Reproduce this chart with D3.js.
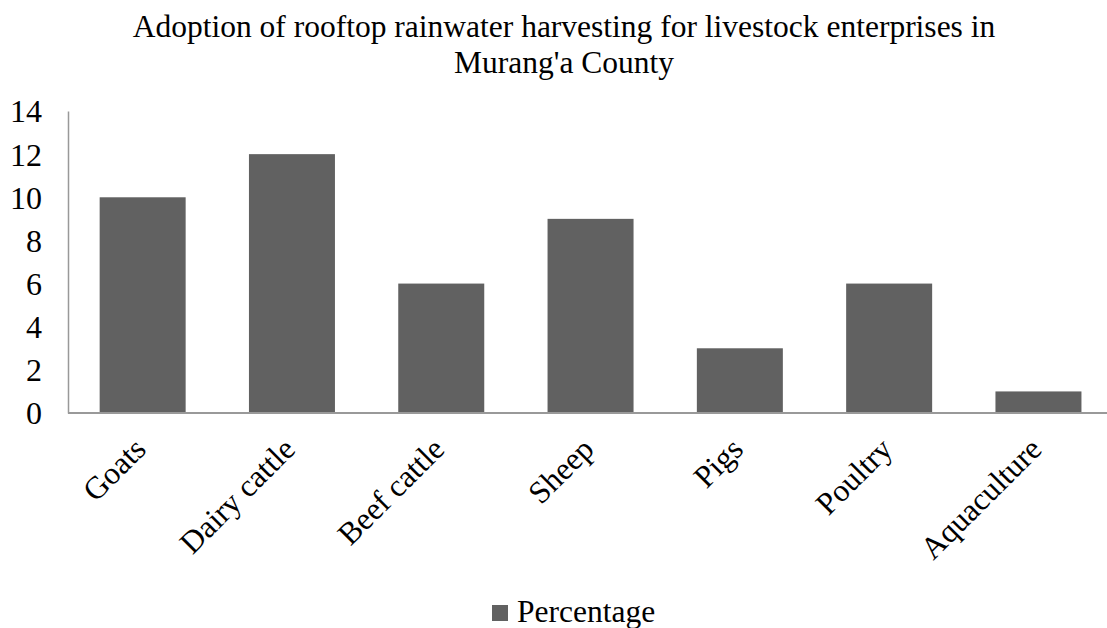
<!DOCTYPE html>
<html>
<head>
<meta charset="utf-8">
<script src="https://cdn.jsdelivr.net/npm/d3@7"></script>
<style>
  html, body { margin: 0; padding: 0; background: #fff; }
  svg text { font-family: "Liberation Serif", "Times New Roman", serif; fill: #000; }
</style>
</head>
<body>
<svg id="chart" width="1107" height="628"></svg>
<script>
// Livestock enterprises and the share adopting rooftop rainwater harvesting (%)
const categories = ["Goats", "Dairy cattle", "Beef cattle", "Sheep", "Pigs", "Poultry", "Aquaculture"];
const percentage = [10, 12, 6, 9, 3, 6, 1];
const yTicks = [0, 2, 4, 6, 8, 10, 12, 14];
const titleLines = ["Adoption of rooftop rainwater harvesting for livestock enterprises in", "Murang'a County"];
const seriesName = "Percentage";

const svg = d3.select("#chart");
const W = 1107;
const margin = { left: 68, top: 111, bottom: 413 };
const fontPx = "31.5px";

const x = d3.scaleBand()
  .domain(categories)
  .range([margin.left, margin.left + 149.3 * categories.length])
  .paddingInner(0.424)
  .paddingOuter(0.212);

const y = d3.scaleLinear().domain([0, 14]).range([margin.bottom, margin.top]);

// Title
svg.append("g").selectAll("text")
  .data(titleLines)
  .join("text")
  .attr("x", 564)
  .attr("y", (d, i) => 37 + i * 36)
  .attr("text-anchor", "middle")
  .style("font-size", fontPx)
  .text(d => d);

// Bars
svg.append("g").selectAll("rect")
  .data(categories)
  .join("rect")
  .attr("x", d => x(d))
  .attr("width", x.bandwidth())
  .attr("y", (d, i) => y(percentage[i]))
  .attr("height", (d, i) => y(0) - y(percentage[i]))
  .attr("fill", "#616161");

// Y axis (labels only, no ticks)
const yAxis = svg.append("g")
  .attr("transform", `translate(${margin.left},0)`)
  .call(d3.axisLeft(y).tickValues(yTicks).tickSize(0).tickPadding(26));
yAxis.select(".domain").attr("stroke", "#999").attr("stroke-width", 1.5);
yAxis.selectAll("text")
  .attr("font-family", null)
  .style("font-size", "32px")
  .attr("dy", "0.34em");

// X axis baseline
svg.append("line")
  .attr("x1", margin.left).attr("x2", W)
  .attr("y1", y(0)).attr("y2", y(0))
  .attr("stroke", "#999").attr("stroke-width", 2);

// Rotated category labels
svg.append("g").selectAll("text")
  .data(categories)
  .join("text")
  .attr("transform", d => `translate(${x(d) + x.bandwidth() / 2 + 5},${y(0) + 38}) rotate(-45)`)
  .attr("text-anchor", "end")
  .style("font-size", fontPx)
  .text(d => d);

// Legend
const legend = svg.append("g").attr("transform", "translate(492,605)");
legend.append("rect")
  .attr("x", 0).attr("y", 0).attr("width", 16).attr("height", 16)
  .attr("fill", "#616161");
legend.append("text")
  .attr("x", 25).attr("y", 17)
  .style("font-size", fontPx)
  .text(seriesName);
</script>
</body>
</html>
